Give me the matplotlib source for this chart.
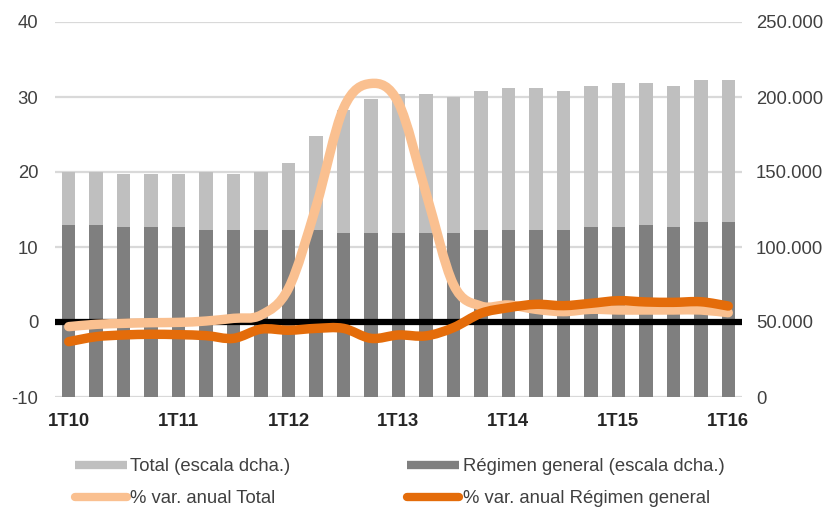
import matplotlib
matplotlib.use("Agg")
import matplotlib.pyplot as plt
from matplotlib.path import Path
from matplotlib.patches import PathPatch
from matplotlib.lines import Line2D
from matplotlib.ticker import FuncFormatter, FixedLocator
import numpy as np

plt.rcParams['font.family'] = ['Liberation Sans', 'DejaVu Sans']
plt.rcParams['axes.unicode_minus'] = False

quarters = [f"{q}T{y:02d}" for y in range(10, 17) for q in range(1, 5)][:25]
tick_labels = ["1T10", "1T11", "1T12", "1T13", "1T14", "1T15", "1T16"]

total = [150000, 150000, 148900, 148900, 148900, 150000, 148900, 150000, 155800,
         173800, 191300, 198700, 202000, 202000, 200200, 204000, 205800, 205800,
         204000, 207600, 209300, 209300, 207600, 211100, 211100]
regimen = [114900, 114900, 113100, 113100, 113100, 111300, 111300, 111300, 111300,
           111300, 109500, 109500, 109500, 109500, 109500, 111300, 111300, 111300,
           111300, 113100, 113100, 114900, 113100, 116700, 116700]
var_total = [-0.62, -0.31, -0.18, -0.09, -0.05, 0.13, 0.49, 0.93, 4.5, 15.4, 28.5,
             31.8, 29.2, 17.2, 5.0, 2.13, 2.27, 1.69, 1.38, 1.69, 1.6, 1.6, 1.6,
             1.6, 1.24]
var_regimen = [-2.62, -1.96, -1.73, -1.64, -1.69, -1.82, -2.18, -0.95, -1.1, -0.85,
               -0.85, -2.18, -1.73, -1.85, -0.75, 1.16, 1.91, 2.36, 2.18, 2.49, 2.84,
               2.67, 2.62, 2.7, 2.13]

C_TOTAL = "#BFBFBF"
C_REG = "#7F7F7F"
C_VT = "#FAC090"
C_VR = "#E46C0A"
TXT = "#404040"


def smooth_path(xs, ys):
    """Excel-like smoothed line: cubic Bezier segments (Catmull-Rom control points)."""
    p = np.column_stack([xs, ys]).astype(float)
    n = len(p)
    verts = [p[0]]
    codes = [Path.MOVETO]
    for i in range(n - 1):
        p0 = p[i - 1] if i > 0 else p[i]
        p1 = p[i]
        p2 = p[i + 1]
        p3 = p[i + 2] if i + 2 < n else p[i + 1]
        c1 = p1 + (p2 - p0) / 6.0
        c2 = p2 - (p3 - p1) / 6.0
        verts += [c1, c2, p2]
        codes += [Path.CURVE4] * 3
    return Path(verts, codes)


fig = plt.figure(figsize=(8.25, 5.08), dpi=100)
L, R, T, B = 55 / 825, 742 / 825, 22 / 508, 397 / 508
axb = fig.add_axes([L, 1 - B, R - L, B - T])
axl = axb.twinx()

x = np.arange(len(quarters))

# bars (right scale)
axb.bar(x, total, width=0.49, color=C_TOTAL, zorder=2)
axb.bar(x, regimen, width=0.49, color=C_REG, zorder=3)
axb.set_ylim(0, 250000)
axb.set_xlim(-0.5, len(quarters) - 0.5)
axb.yaxis.set_major_locator(FixedLocator([0, 50000, 100000, 150000, 200000, 250000]))
axb.yaxis.set_major_formatter(FuncFormatter(lambda v, p: f"{int(v):,}".replace(",", ".")))
axb.yaxis.tick_right()
axb.grid(axis='y', color="#D9D9D9", lw=1.6, zorder=0)
axb.set_axisbelow(True)
axb.set_xticks([0, 4, 8, 12, 16, 20, 24])
axb.set_xticklabels(tick_labels, fontweight='bold', fontsize=13.3, color="#262626")
axb.tick_params(axis='x', length=0, pad=11.5)
axb.tick_params(axis='y', length=0, pad=10, labelsize=13.3, labelcolor=TXT)

# lines (left scale)
axl.set_ylim(-10, 40)
axl.yaxis.tick_left()
axl.set_yticks([-10, 0, 10, 20, 30, 40])
axl.tick_params(axis='y', length=0, pad=12, labelsize=13.3, labelcolor=TXT)
axl.axhline(0, color="black", lw=4.5, zorder=1)
axl.add_patch(PathPatch(smooth_path(x, var_total), fill=False, edgecolor=C_VT,
                        lw=6.8, capstyle='round', joinstyle='round', zorder=2))
axl.add_patch(PathPatch(smooth_path(x, var_regimen), fill=False, edgecolor=C_VR,
                        lw=6.8, capstyle='round', joinstyle='round', zorder=3))

for a in (axb, axl):
    for s in a.spines.values():
        s.set_visible(False)

handles = [
    Line2D([], [], color=C_TOTAL, lw=6, solid_capstyle='butt'),
    Line2D([], [], color=C_VT, lw=6, solid_capstyle='round'),
    Line2D([], [], color=C_REG, lw=6, solid_capstyle='butt'),
    Line2D([], [], color=C_VR, lw=6, solid_capstyle='round'),
]
labels = ["Total (escala dcha.)", "% var. anual Total",
          "Régimen general (escala dcha.)", "% var. anual Régimen general"]
fig.legend(handles, labels, ncol=2, loc='upper left', bbox_to_anchor=(75 / 825, 1 - 458 / 508),
           frameon=False, fontsize=13.3, handlelength=2.8, handletextpad=0.2,
           columnspacing=6.32, labelspacing=0.82, borderaxespad=0, borderpad=0,
           labelcolor=TXT)

fig.savefig("out.png", dpi=100)
